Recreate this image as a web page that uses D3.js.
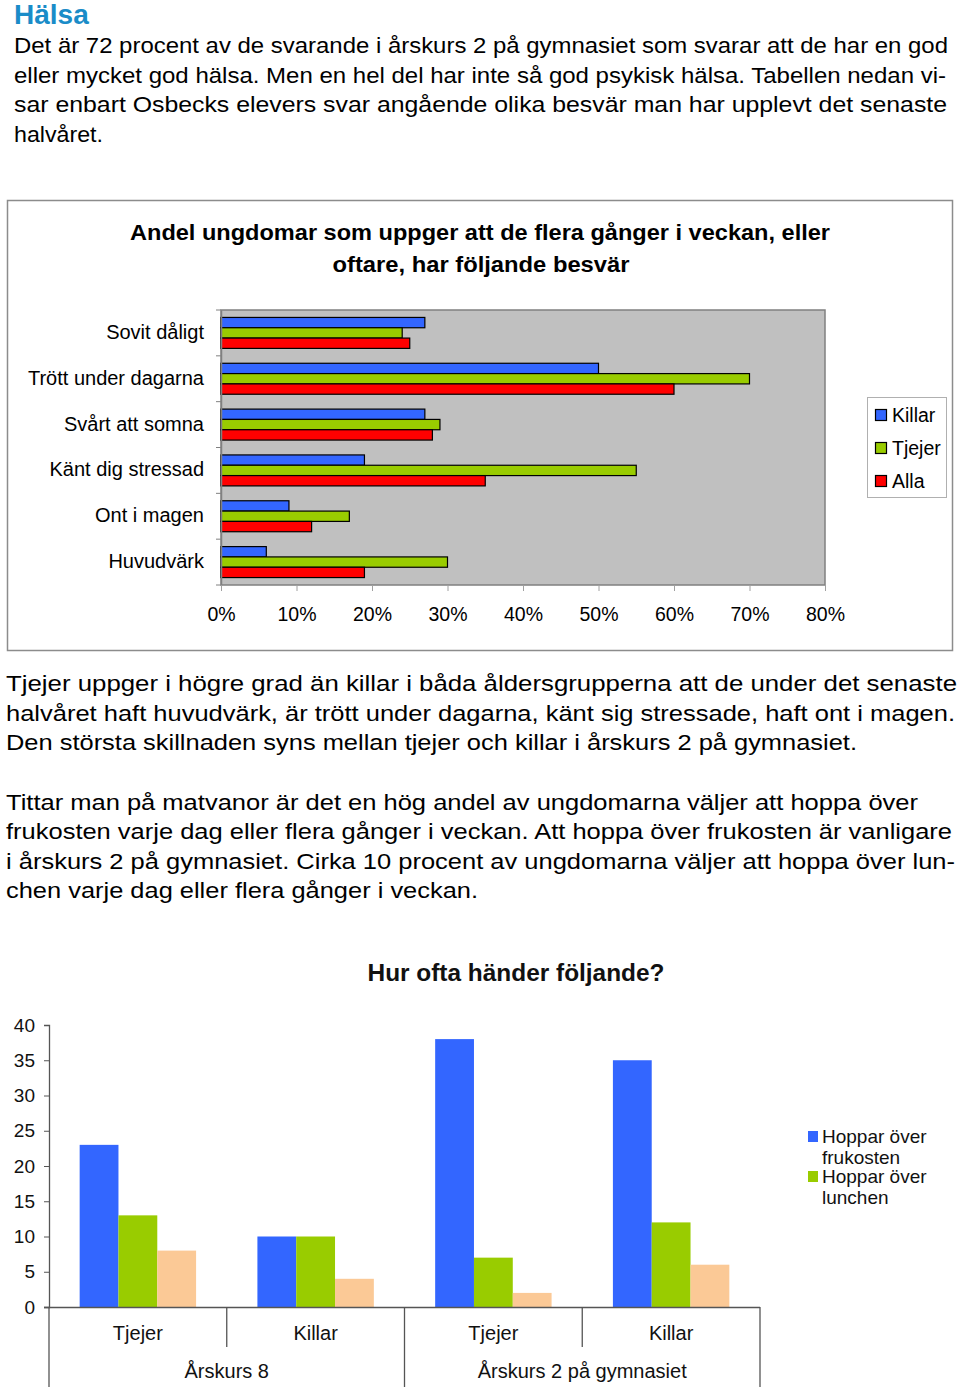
<!DOCTYPE html>
<html><head><meta charset="utf-8">
<script src="https://cdn.jsdelivr.net/npm/d3@7/dist/d3.min.js"></script>
<style>
html,body{margin:0;padding:0;background:#fff;}
svg{display:block;font-family:"Liberation Sans",Arial,sans-serif;}
</style></head>
<body>
<svg id="page" width="960" height="1387"></svg>
<script>
// ---------- Data ----------
const heading = "Hälsa";
const para1 = [
  "Det är 72 procent av de svarande i årskurs 2 på gymnasiet som svarar att de har en god",
  "eller mycket god hälsa. Men en hel del har inte så god psykisk hälsa. Tabellen nedan vi-",
  "sar enbart Osbecks elevers svar angående olika besvär man har upplevt det senaste",
  "halvåret."
];
const para2 = [
  "Tjejer uppger i högre grad än killar i båda åldersgrupperna att de under det senaste",
  "halvåret haft huvudvärk, är trött under dagarna, känt sig stressade, haft ont i magen.",
  "Den största skillnaden syns mellan tjejer och killar i årskurs 2 på gymnasiet."
];
const para3 = [
  "Tittar man på matvanor är det en hög andel av ungdomarna väljer att hoppa över",
  "frukosten varje dag eller flera gånger i veckan. Att hoppa över frukosten är vanligare",
  "i årskurs 2 på gymnasiet. Cirka 10 procent av ungdomarna väljer att hoppa över lun-",
  "chen varje dag eller flera gånger i veckan."
];

const title1 = ["Andel ungdomar som uppger att de flera gånger i veckan, eller", "oftare, har följande besvär"];
const categories1 = ["Sovit dåligt", "Trött under dagarna", "Svårt att somna", "Känt dig stressad", "Ont i magen", "Huvudvärk"];
const series1 = ["Killar", "Tjejer", "Alla"];
const killar = [27, 50, 27, 19, 9, 6];
const tjejer = [24, 70, 29, 55, 17, 30];
const alla = [25, 60, 28, 35, 12, 19];
const ticks1 = [0, 10, 20, 30, 40, 50, 60, 70, 80];

const title2 = "Hur ofta händer följande?";
const groups2 = ["Årskurs 8", "Årskurs 2 på gymnasiet"];
const sub2 = ["Tjejer", "Killar"];
const frukost = [23, 10, 38, 35];
const lunch = [13, 10, 7, 12];
const tredje = [8, 4, 2, 6];
const legend2 = [["Hoppar över", "frukosten"], ["Hoppar över", "lunchen"]];
const ticks2 = [0, 5, 10, 15, 20, 25, 30, 35, 40];

// ---------- Page ----------
const svg = d3.select("#page");

svg.append("text").attr("x", 14).attr("y", 24)
  .attr("font-size", 28).attr("font-weight", "bold").attr("fill", "#1a8cc8")
  .text(heading);

function paragraph(lines, x, y0, lh, widths) {
  lines.forEach((t, i) => {
    const el = svg.append("text").attr("x", x).attr("y", y0 + i * lh)
      .attr("font-size", 22).attr("fill", "#000").text(t);
    if (widths[i]) el.attr("textLength", widths[i]).attr("lengthAdjust", "spacingAndGlyphs");
  });
}
paragraph(para1, 14, 53, 29.6, [934, 932, 933, 89]);
paragraph(para2, 6, 691, 29.6, [951, 949, 851]);
paragraph(para3, 6, 810, 29.4, [912, 946, 949, 472]);

// ---------- Chart 1 ----------
svg.append("rect").attr("x", 7.5).attr("y", 200.5).attr("width", 945).attr("height", 450)
  .attr("fill", "#fff").attr("stroke", "#8c8c8c").attr("stroke-width", 1.5);

svg.append("text").attr("x", 480).attr("y", 240).attr("text-anchor", "middle")
  .attr("font-size", 22).attr("font-weight", "bold").attr("textLength", 700).attr("lengthAdjust", "spacingAndGlyphs")
  .text(title1[0]);
svg.append("text").attr("x", 481).attr("y", 272).attr("text-anchor", "middle")
  .attr("font-size", 22).attr("font-weight", "bold").attr("textLength", 297).attr("lengthAdjust", "spacingAndGlyphs")
  .text(title1[1]);

const x1 = d3.scaleLinear().domain([0, 80]).range([221, 825]);
const y1 = d3.scaleBand().domain(categories1).range([310, 585]);
const y1in = d3.scaleBand().domain(series1).range([0, y1.bandwidth()]).paddingOuter(0.72);
const colors1 = { Killar: "#3366ff", Tjejer: "#99cc00", Alla: "#ff0000" };
const vals1 = { Killar: killar, Tjejer: tjejer, Alla: alla };

svg.append("rect").attr("x", 221).attr("y", 310).attr("width", 604).attr("height", 275)
  .attr("fill", "#c0c0c0").attr("stroke", "#808080").attr("stroke-width", 1.5);

const g1 = svg.append("g");
categories1.forEach((c, i) => {
  series1.forEach(s => {
    g1.append("rect")
      .attr("x", x1(0)).attr("y", y1(c) + y1in(s))
      .attr("width", x1(vals1[s][i]) - x1(0)).attr("height", y1in.bandwidth())
      .attr("fill", colors1[s]).attr("stroke", "#000").attr("stroke-width", 1.2);
  });
});

// left axis
const yAxisG = svg.append("g").attr("transform", "translate(221,0)")
  .call(d3.axisLeft(y1).tickSize(0).tickPadding(17));
yAxisG.select(".domain").attr("stroke", "#808080").attr("stroke-width", 1.5);
yAxisG.selectAll("text").attr("font-size", 20).attr("fill", "#000")
  .attr("font-family", "Liberation Sans, Arial, sans-serif").attr("dy", "0.3em");
categories1.concat(["__end"]).forEach((c, i) => {
  const yy = 310 + i * y1.step();
  svg.append("line").attr("x1", 216).attr("x2", 221).attr("y1", yy).attr("y2", yy)
    .attr("stroke", "#808080").attr("stroke-width", 1);
});

const xAxisG = svg.append("g").attr("transform", "translate(0,585)")
  .call(d3.axisBottom(x1).tickValues(ticks1).tickSize(6).tickPadding(16).tickFormat(d => d + "%"));
xAxisG.select(".domain").remove();
xAxisG.selectAll("line").attr("stroke", "#a0a0a0");
xAxisG.selectAll("text").attr("font-size", 19.5).attr("fill", "#000")
  .attr("font-family", "Liberation Sans, Arial, sans-serif");

// legend 1
svg.append("rect").attr("x", 867.5).attr("y", 397.5).attr("width", 79).attr("height", 100)
  .attr("fill", "#fff").attr("stroke", "#b0b0b0").attr("stroke-width", 1);
series1.forEach((s, i) => {
  const cy = 415 + i * 33;
  svg.append("rect").attr("x", 875.5).attr("y", cy - 5.5).attr("width", 11).attr("height", 11)
    .attr("fill", colors1[s]).attr("stroke", "#000").attr("stroke-width", 1.2);
  svg.append("text").attr("x", 892).attr("y", cy + 7).attr("font-size", 19.5).text(s);
});

// ---------- Chart 2 ----------
svg.append("text").attr("x", 516).attr("y", 981).attr("text-anchor", "middle")
  .attr("font-size", 23).attr("font-weight", "bold").attr("fill", "#111")
  .attr("textLength", 297).attr("lengthAdjust", "spacingAndGlyphs").text(title2);

const cats2 = [];
groups2.forEach(g => sub2.forEach(s => cats2.push(g + "|" + s)));
const x2 = d3.scaleBand().domain(cats2).range([49, 760]);
const x2in = d3.scaleBand().domain([0, 1, 2]).range([0, x2.bandwidth()]).paddingOuter(0.79);
const y2 = d3.scaleLinear().domain([0, 40]).range([1307, 1025]);
const colors2 = ["#3366ff", "#99cc00", "#fbc996"];
const vals2 = [frukost, lunch, tredje];

cats2.forEach((c, i) => {
  vals2.forEach((arr, k) => {
    svg.append("rect").attr("x", x2(c) + x2in(k)).attr("y", y2(arr[i]))
      .attr("width", x2in.bandwidth()).attr("height", y2(0) - y2(arr[i]))
      .attr("fill", colors2[k]);
  });
});

const yAx2 = svg.append("g").attr("transform", "translate(49,0)")
  .call(d3.axisLeft(y2).tickValues(ticks2).tickSize(5).tickPadding(9));
yAx2.select(".domain").attr("stroke", "#555").attr("stroke-width", 1.3);
yAx2.selectAll("line").attr("stroke", "#555");
yAx2.selectAll("text").attr("font-size", 19).attr("fill", "#111")
  .attr("font-family", "Liberation Sans, Arial, sans-serif");

// category axis
svg.append("line").attr("x1", 44).attr("x2", 760).attr("y1", 1307.5).attr("y2", 1307.5)
  .attr("stroke", "#555").attr("stroke-width", 1.3);
cats2.forEach((c, i) => {
  const xx = x2(c);
  const isGroup = i % 2 === 0;
  svg.append("line").attr("x1", xx).attr("x2", xx).attr("y1", 1307).attr("y2", isGroup ? 1387 : 1347)
    .attr("stroke", "#555").attr("stroke-width", 1.3);
  svg.append("text").attr("x", xx + x2.bandwidth() / 2).attr("y", 1340)
    .attr("text-anchor", "middle").attr("font-size", 20).attr("fill", "#111")
    .text(c.split("|")[1]);
});
svg.append("line").attr("x1", 760).attr("x2", 760).attr("y1", 1307).attr("y2", 1387)
  .attr("stroke", "#555").attr("stroke-width", 1.3);
groups2.forEach((g, gi) => {
  const xa = x2(g + "|" + sub2[0]);
  const xb = x2(g + "|" + sub2[1]) + x2.bandwidth();
  svg.append("text").attr("x", (xa + xb) / 2).attr("y", 1378)
    .attr("text-anchor", "middle").attr("font-size", 20).attr("fill", "#111").text(g);
});

// legend 2
legend2.forEach((lines, i) => {
  const top = 1131 + i * 40;
  svg.append("rect").attr("x", 808).attr("y", top).attr("width", 10).attr("height", 11)
    .attr("fill", colors2[i]);
  lines.forEach((t, j) => {
    svg.append("text").attr("x", 822).attr("y", top + 12 + j * 21)
      .attr("font-size", 19).attr("fill", "#111").text(t);
  });
});
</script>
</body></html>
